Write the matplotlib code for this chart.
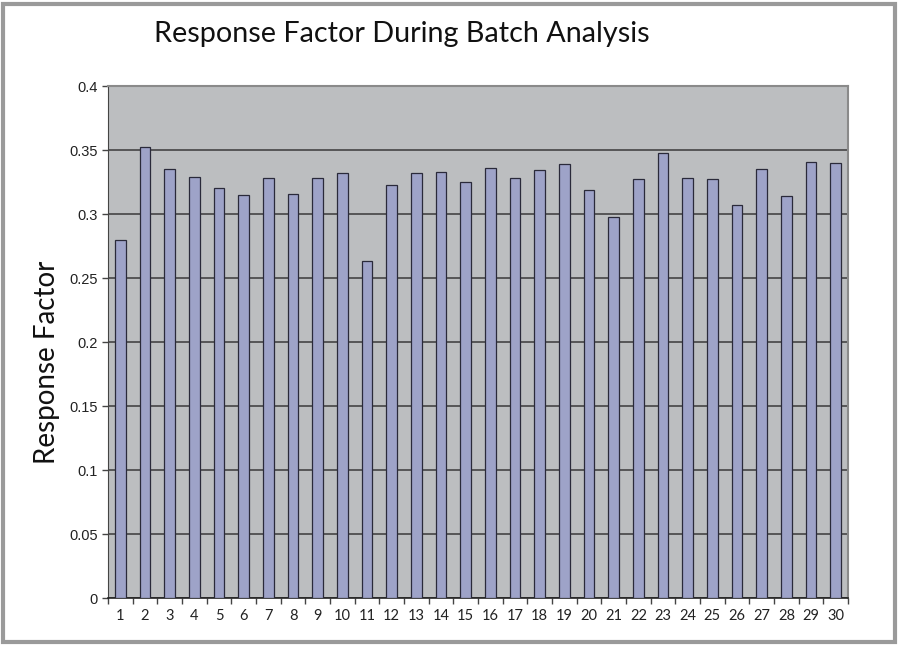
import numpy as np
import matplotlib.pyplot as plt
from matplotlib.patches import Rectangle
from matplotlib.ticker import MultipleLocator, FuncFormatter

# Response factor for each sample in the batch
samples = list(range(1, 31))
response = [0.280, 0.352, 0.335, 0.329, 0.320, 0.315, 0.328, 0.316, 0.328, 0.332,
            0.263, 0.323, 0.332, 0.333, 0.325, 0.336, 0.328, 0.334, 0.339, 0.319,
            0.298, 0.327, 0.348, 0.328, 0.327, 0.307, 0.335, 0.314, 0.341, 0.340]

fig = plt.figure(figsize=(9.01, 6.47), dpi=100)
fig.patch.set_facecolor('white')

# grey frame around the whole picture
fig.patches.append(Rectangle((3 / 901, 5 / 647), 892 / 901, 638 / 647, transform=fig.transFigure,
                             fill=False, edgecolor='#9a9a9a', linewidth=3))

ax = fig.add_axes([108 / 901, 1 - 598 / 647, 740 / 901, 512 / 647])
ax.set_facecolor('#bcbec0')

x = np.arange(len(samples))
ax.bar(x, response, width=0.43, color='#9ea3c8', edgecolor='#2a2a3a', linewidth=0.9, zorder=3)

ax.set_xlim(-0.5, len(samples) - 0.5)
ax.set_ylim(0, 0.4)
ax.yaxis.set_major_locator(MultipleLocator(0.05))
ax.yaxis.set_major_formatter(FuncFormatter(lambda v, p: ('%g' % round(v, 3))))
ax.grid(axis='y', color='#3a3a3a', linewidth=1.1, zorder=1)

# x ticks at category boundaries, labels in the middle
ax.set_xticks(np.arange(-0.5, len(samples), 1))
ax.set_xticklabels([])
ax.set_xticks(x, minor=True)
ax.set_xticklabels([str(s) for s in samples], minor=True, family='Lato', fontsize=10.5, color='#222222')
ax.tick_params(axis='x', which='minor', length=0, pad=8)
ax.tick_params(axis='x', which='major', length=4, width=1, color='#444444', direction='out')
ax.tick_params(axis='y', length=4, width=1, color='#444444', labelsize=10.5, labelcolor='#222222')
for lbl in ax.get_yticklabels():
    lbl.set_family('Liberation Sans')

for side in ['top', 'right']:
    ax.spines[side].set_color('#8a8a8a')
    ax.spines[side].set_linewidth(1.5)
ax.spines['left'].set_color('#444444')
ax.spines['bottom'].set_color('#222222')
ax.spines['bottom'].set_linewidth(1.2)

fig.text(402 / 901, 1 - 34 / 647, 'Response Factor During Batch Analysis', ha='center', va='center',
         family='Lato', fontsize=20.7, color='#111111')
fig.text(47 / 901, 1 - 362 / 647, 'Response Factor', ha='center', va='center', rotation=90,
         family='Lato', fontsize=20, color='#111111')

fig.savefig('out.png', dpi=100)
